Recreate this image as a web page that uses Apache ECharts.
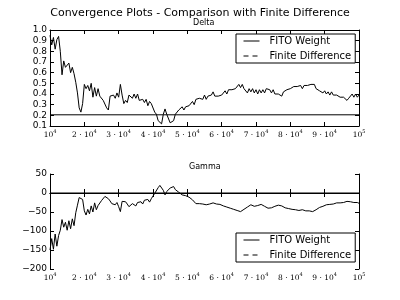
<!DOCTYPE html>
<html><head><meta charset="utf-8">
<script src="https://cdn.jsdelivr.net/npm/echarts@6/dist/echarts.min.js"></script>
<style>html,body{margin:0;padding:0;background:#fff}#c{width:400px;height:300px}</style>
</head><body><div id="c"></div>
<script>
const steps = [10000,10500,11000,11500,12000,12500,13000,13500,14000,14500,
15000,15500,16000,16500,17000,17500,18000,18500,19000,19500,
20000,20500,21000,21500,22000,22500,23000,23500,24000,24500,
25000,25500,26000,26500,27000,27500,28000,28500,29000,29500,
30000,30500,31000,31500,32000,32500,33000,33500,34000,34500,
35000,35500,36000,36500,37000,37500,38000,38500,39000,39500,
40000,40500,41000,41500,42000,42500,43000,43500,44000,44500,
45000,45500,46000,46500,47000,47500,48000,48500,49000,49500,
50000,50500,51000,51500,52000,52500,53000,53500,54000,54500,
55000,55500,56000,56500,57000,57500,58000,58500,59000,59500,
60000,60500,61000,61500,62000,62500,63000,63500,64000,64500,
65000,65500,66000,66500,67000,67500,68000,68500,69000,69500,
70000,70500,71000,71500,72000,72500,73000,73500,74000,74500,
75000,75500,76000,76500,77000,77500,78000,78500,79000,79500,
80000,80500,81000,81500,82000,82500,83000,83500,84000,84500,
85000,85500,86000,86500,87000,87500,88000,88500,89000,89500,
90000,90500,91000,91500,92000,92500,93000,93500,94000,94500,
95000,95500,96000,96500,97000,97500,98000,98500,99000,99500,100000];

const deltaFito = [0.95,0.86,0.93,0.82,0.91,0.94,0.80,0.58,0.71,0.65,
0.64,0.69,0.60,0.65,0.59,0.51,0.41,0.27,0.23,0.31,
0.49,0.45,0.48,0.43,0.50,0.37,0.46,0.38,0.45,0.38,
0.37,0.34,0.33,0.27,0.25,0.38,0.37,0.39,0.36,0.41,
0.37,0.49,0.39,0.31,0.34,0.32,0.39,0.40,0.36,0.40,
0.36,0.40,0.34,0.33,0.35,0.32,0.35,0.29,0.33,0.31,
0.30,0.23,0.21,0.15,0.15,0.12,0.21,0.26,0.21,0.20,
0.13,0.14,0.15,0.21,0.20,0.25,0.24,0.28,0.25,0.28,
0.27,0.29,0.28,0.33,0.30,0.35,0.35,0.36,0.37,0.35,
0.39,0.35,0.38,0.38,0.39,0.42,0.38,0.39,0.38,0.37,
0.39,0.39,0.43,0.40,0.44,0.43,0.44,0.44,0.45,0.46,
0.49,0.46,0.49,0.45,0.45,0.41,0.45,0.42,0.45,0.41,
0.44,0.40,0.44,0.41,0.44,0.41,0.45,0.44,0.44,0.41,
0.44,0.40,0.41,0.40,0.41,0.38,0.42,0.41,0.44,0.43,
0.45,0.44,0.47,0.46,0.47,0.46,0.48,0.45,0.48,0.47,
0.48,0.47,0.49,0.48,0.49,0.45,0.46,0.43,0.44,0.41,
0.43,0.40,0.42,0.39,0.42,0.39,0.40,0.39,0.39,0.37,
0.38,0.37,0.37,0.34,0.36,0.37,0.40,0.37,0.40,0.37,0.39];

const gammaFito = [-150,-120,-148,-108,-140,-112,-98,-70,-90,-77,
-98,-73,-94,-68,-86,-52,-32,-12,-9,-17,
-47,-58,-43,-55,-34,-50,-26,-44,-33,-28,
-20,-21,-9,-5,-15,-21,-28,-31,-31,-25,
-36,-49,-22,-24,-23,-29,-36,-31,-28,-29,
-34,-25,-24,-23,-29,-19,-15,-17,-24,-15,
-15,-1,-1,14,20,15,7,-5,4,7,
13,17,17,9,6,2,-1,-5,-4,-7,
-8,-11,-13,-18,-21,-28,-24,-28,-25,-29,
-26,-31,-28,-29,-29,-26,-29,-29,-33,-30,
-35,-34,-38,-37,-41,-40,-44,-43,-44,-46,
-50,-49,-48,-43,-43,-37,-35,-31,-36,-35,
-38,-33,-33,-30,-35,-35,-39,-40,-44,-39,
-38,-35,-35,-32,-33,-34,-39,-39,-42,-41,
-44,-43,-47,-44,-47,-46,-47,-44,-48,-47,
-50,-47,-50,-49,-49,-44,-42,-38,-38,-35,
-34,-31,-31,-30,-30,-29,-29,-26,-29,-26,
-29,-25,-26,-22,-23,-23,-28,-25,-28,-25,-27];

const fdSteps = [10000, 100000];
const deltaFD = [0.205, 0.205];
const gammaFD = [0, 0];

const deltaTicks = {min: 0.1, max: 1.0, interval: 0.1};
const gammaTicks = {min: -200, max: 50, interval: 50};
const xTicks = {min: 10000, max: 100000, interval: 10000};
const legendNames = ['FITO Weight', 'Finite Difference'];

const pair = (xs, ys) => xs.map((x, i) => [x, ys[i]]);
const chart = echarts.init(document.getElementById('c'), null, {renderer: 'canvas'});

const black = '#000';
const axisLine = {show: true, lineStyle: {color: black, width: 1}};
const tick = {show: true, inside: true, length: 4, lineStyle: {color: black, width: 1}};

function xLabel(v) {
  const k = Math.round(v / 10000);
  if (k === 1) return '{b|10}{s|4}';
  if (k === 10) return '{b|10}{s|5}';
  return '{b|' + k + ' \u00b7 10}{s|4}';
}
const xRich = {
  b: {fontFamily: 'DejaVu Serif', fontSize: 7.5, color: black, lineHeight: 10, verticalAlign: 'bottom'},
  s: {fontFamily: 'DejaVu Serif', fontSize: 5, color: black, lineHeight: 10, verticalAlign: 'top', padding: [0, 0, 3, 0]}
};

function mkX(grid, pos, labels) {
  return {type: 'value', gridIndex: grid, position: pos, min: xTicks.min, max: xTicks.max, interval: xTicks.interval,
    axisLine: axisLine, axisTick: tick, splitLine: {show: false},
    axisLabel: labels ? {show: true, margin: 3, formatter: xLabel, rich: xRich, hideOverlap: false} : {show: false}};
}
function mkY(grid, pos, t, labels, fmt) {
  return {type: 'value', gridIndex: grid, position: pos, min: t.min, max: t.max, interval: t.interval,
    axisLine: axisLine, axisTick: tick, splitLine: {show: false},
    axisLabel: labels ? {show: true, margin: 3, fontFamily: 'DejaVu Sans', fontSize: 9, color: black, formatter: fmt} : {show: false}};
}
const fmtDelta = v => v.toFixed(1);
const fmtGamma = v => (v < 0 ? '\u2212' + Math.abs(v) : String(v));

const hiddenSymbol = {color: 'rgba(0,0,0,0)', borderWidth: 0, opacity: 0};
const legendBase = {
  orient: 'vertical', backgroundColor: '#fff', borderColor: black, borderWidth: 1, borderRadius: 0,
  padding: [2, 4, 2, 7], itemWidth: 16, itemHeight: 12, itemGap: 5,
  textStyle: {fontFamily: 'DejaVu Sans', fontSize: 10, color: black, padding: [0, 0, 0, 5]},
  selectedMode: false,
  itemStyle: hiddenSymbol,
  data: [
    {name: legendNames[0], itemStyle: hiddenSymbol, lineStyle: {type: 'solid', color: black, width: 1}},
    {name: legendNames[1], itemStyle: hiddenSymbol, lineStyle: {type: [5, 4], color: black, width: 1}}
  ]
};

const lineS = (name, x, y, data, z) => ({
  name: name, type: 'line', xAxisIndex: x, yAxisIndex: y, data: data, showSymbol: false, symbol: 'none',
  lineStyle: {color: black, width: 1}, itemStyle: {color: black}, animation: false, z: z, clip: true
});

chart.setOption({
  animation: false,
  title: [
    {text: 'Convergence Plots - Comparison with Finite Difference', left: 'center', top: 3,
      textStyle: {fontFamily: 'DejaVu Sans', fontSize: 11, fontWeight: 'normal', color: black}},
    {text: 'Delta', left: 193, top: 19, padding: 0,
      textStyle: {fontFamily: 'DejaVu Sans', fontSize: 8, fontWeight: 'normal', color: black}},
    {text: 'Gamma', left: 189, top: 163, padding: 0,
      textStyle: {fontFamily: 'DejaVu Sans', fontSize: 8, fontWeight: 'normal', color: black}}
  ],
  grid: [
    {left: 50, top: 30, width: 309, height: 96, show: false},
    {left: 50, top: 174, width: 309, height: 95, show: false}
  ],
  xAxis: [mkX(0, 'bottom', true), mkX(0, 'top', false), mkX(1, 'bottom', true), mkX(1, 'top', false)],
  yAxis: [mkY(0, 'left', deltaTicks, true, fmtDelta), mkY(0, 'right', deltaTicks, false),
          mkY(1, 'left', gammaTicks, true, fmtGamma), mkY(1, 'right', gammaTicks, false)],
  legend: [
    Object.assign({}, legendBase, {left: 236, top: 34}),
    Object.assign({}, legendBase, {left: 236, top: 233})
  ],
  series: [
    lineS(legendNames[0], 0, 0, pair(steps, deltaFito), 3),
    lineS(legendNames[1], 0, 0, pair(fdSteps, deltaFD), 2),
    lineS(legendNames[0], 2, 2, pair(steps, gammaFito), 3),
    lineS(legendNames[1], 2, 2, pair(fdSteps, gammaFD), 2)
  ]
});
</script></body></html>
